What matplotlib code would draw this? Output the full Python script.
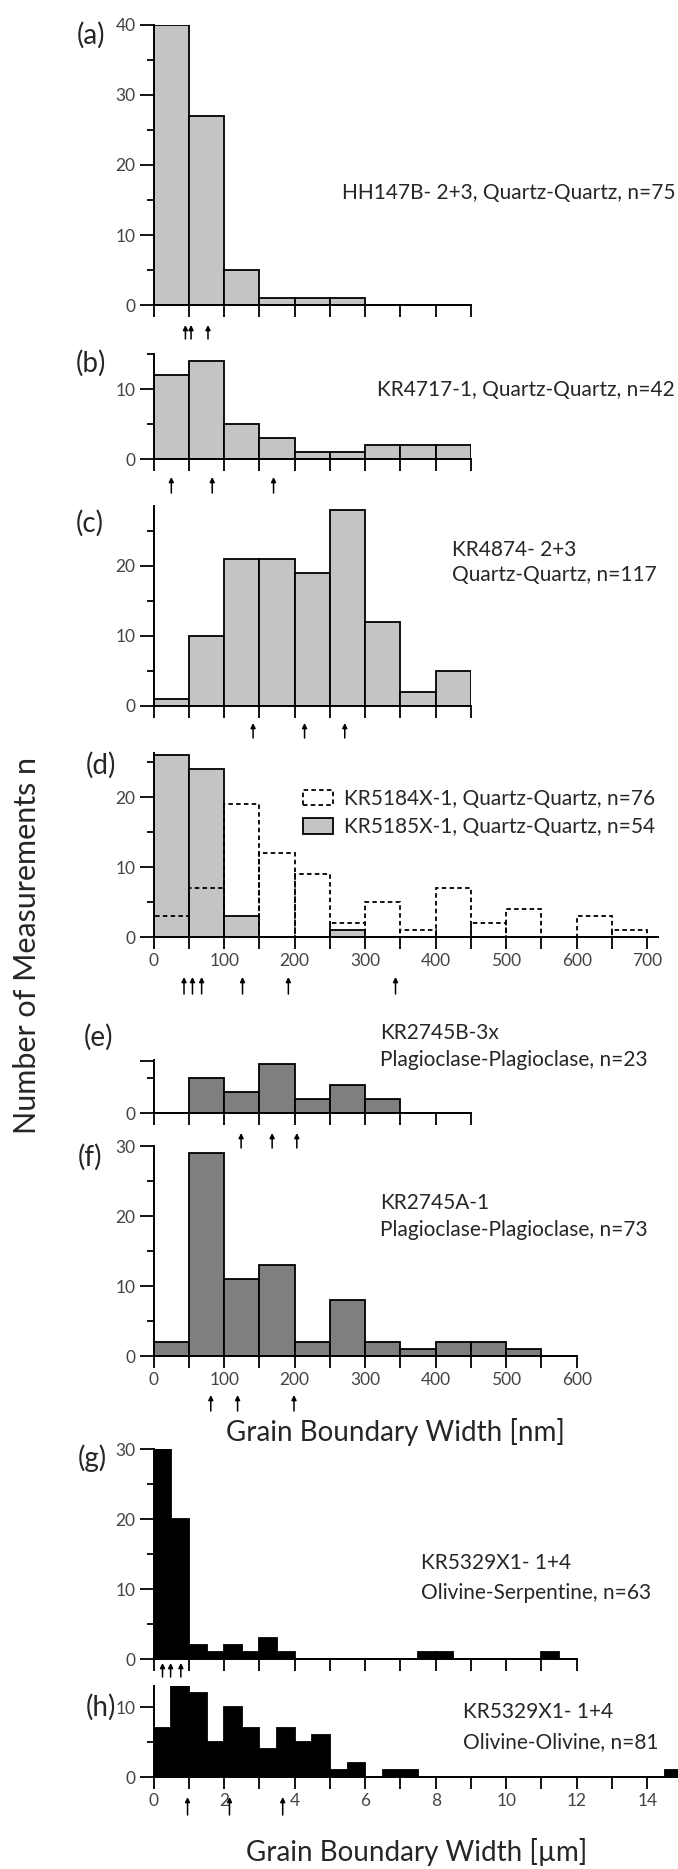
import matplotlib
matplotlib.use("Agg")
import matplotlib.pyplot as plt
from matplotlib.patches import Patch
from matplotlib.transforms import offset_copy
import numpy as np

plt.rcParams['font.family'] = ['Lato', 'DejaVu Sans']

# ---- data (counts per bin) ----
# nm panels: 50 nm bins starting at 0
a_counts = [40, 27, 5, 1, 1, 1, 0, 0, 0]
b_counts = [12, 14, 5, 3, 1, 1, 2, 2, 2]
c_counts = [1, 10, 21, 21, 19, 28, 12, 2, 5]
d_dashed_counts = [3, 7, 19, 12, 9, 2, 5, 1, 7, 2, 4, 0, 3, 1]
d_gray_counts = [26, 24, 3, 0, 0, 1, 0, 0, 0, 0, 0, 0, 0, 0]
e_counts = [0, 5, 3, 7, 2, 4, 2, 0, 0]
f_counts = [2, 29, 11, 13, 2, 8, 2, 1, 2, 2, 1, 0]
# um panels: 0.5 um bins starting at 0
g_counts = [30, 20, 2, 1, 2, 1, 3, 1, 0, 0, 0, 0, 0, 0, 0, 1, 1, 0, 0, 0, 0, 0, 1, 0]
h_counts = [7, 13, 12, 5, 10, 7, 4, 7, 5, 6, 1, 2, 0, 1, 1,
            0, 0, 0, 0, 0, 0, 0, 0, 0, 0, 0, 0, 0, 0, 1]

# arrow markers under each panel
a_arrows = [45, 53, 77]
b_arrows = [25, 83, 170]
c_arrows = [141, 214, 271]
d_arrows = [43, 55, 68, 126, 191, 343]
e_arrows = [124, 168, 203]
f_arrows = [81, 119, 199]
g_arrows = [0.25, 0.48, 0.77]
h_arrows = [0.96, 2.15, 3.66]

LIGHT = '#c4c4c4'
MID = '#7f7f7f'
TXT = '#262626'
W, H = 678, 1869
fig = plt.figure(figsize=(W / 100, H / 100), dpi=100)

X0 = 153.7
PX_NM = 0.705     # px per nm
PX_UM = 35.25     # px per um
PX_N = 7.0        # px per count


def px_axes(xmax, ymax, bottom, px_per_x):
    w = xmax * px_per_x
    h = ymax * PX_N
    ax = fig.add_axes([X0 / W, 1 - bottom / H, w / W, h / H])
    ax.set_xlim(0, xmax)
    ax.set_ylim(0, ymax)
    ax.set_facecolor('none')
    for s in ('top', 'right'):
        ax.spines[s].set_visible(False)
    for s in ('left', 'bottom'):
        ax.spines[s].set_linewidth(1.4)
    ax.tick_params(axis='y', which='major', length=10, width=1.3, pad=3,
                   labelsize=12.5, labelcolor='#444444')
    ax.tick_params(axis='y', which='minor', length=5, width=1.3)
    ax.tick_params(axis='x', which='both', length=8.5, width=1.3, pad=3,
                   labelsize=12.5, labelcolor='#444444')
    return ax


def bars(ax, counts, binw, color, **kw):
    edges = np.arange(len(counts)) * binw
    ax.bar(edges, counts, width=binw, align='edge', color=color,
           edgecolor='black', linewidth=1.3, **kw)


def arrows(ax, xs, tip, length):
    t = offset_copy(ax.get_xaxis_transform(), fig=fig, x=0, y=-tip, units='dots')
    for x in xs:
        ax.annotate('', xy=(x, 0), xycoords=t, xytext=(0, -length * 0.72),
                    textcoords='offset points',
                    arrowprops=dict(arrowstyle='-|>', lw=1.1, color='black',
                                    mutation_scale=7, shrinkA=0, shrinkB=0))


def ftext(x, y, s, ha='left', size=15):
    fig.text(x / W, 1 - y / H, s, ha=ha, va='center', fontsize=size, color=TXT)


def nm_xticks(ax, xmax, labels):
    ax.set_xticks(np.arange(0, xmax + 1, 100))
    ax.set_xticks(np.arange(50, xmax, 100), minor=True)
    if not labels:
        ax.set_xticklabels([])


# (a)
ax = px_axes(450, 40, 305, PX_NM)
bars(ax, a_counts, 50, LIGHT)
ax.set_xticks(np.arange(0, 451, 50))
ax.set_xticklabels([])
ax.set_yticks([0, 10, 20, 30, 40])
ax.set_yticks([5, 15, 25, 35], minor=True)
arrows(ax, a_arrows, 20, 14)
ftext(77, 35, '(a)', size=20)
ftext(675, 193, 'HH147B- 2+3, Quartz-Quartz, n=75', ha='right')

# (b)
ax = px_axes(450, 15, 459, PX_NM)
bars(ax, b_counts, 50, LIGHT)
ax.set_xticks(np.arange(0, 451, 50))
ax.set_xticklabels([])
ax.set_yticks([0, 10])
ax.set_yticks([5, 15], minor=True)
arrows(ax, b_arrows, 18, 16)
ftext(76, 363, '(b)', size=20)
ftext(675, 390, 'KR4717-1, Quartz-Quartz, n=42', ha='right')

# (c)
ax = px_axes(450, 28.5, 706, PX_NM)
bars(ax, c_counts, 50, LIGHT)
ax.set_xticks(np.arange(0, 451, 50))
ax.set_xticklabels([])
ax.set_yticks([0, 10, 20])
ax.set_yticks([5, 15, 25], minor=True)
arrows(ax, c_arrows, 17, 15)
ftext(76, 523, '(c)', size=20)
ftext(452, 550, 'KR4874- 2+3')
ftext(452, 575, 'Quartz-Quartz, n=117')

# (d)
ax = px_axes(715, 26.3, 937, PX_NM)
bars(ax, d_gray_counts, 50, LIGHT)
bars(ax, d_dashed_counts, 50, 'none', linestyle=(0, (2.5, 1.8)))
nm_xticks(ax, 700, True)
ax.set_yticks([0, 10, 20])
ax.set_yticks([5, 15, 25], minor=True)
arrows(ax, d_arrows, 40, 17)
ftext(86, 765, '(d)', size=20)
handles = [Patch(facecolor='white', edgecolor='black', linestyle=(0, (2.5, 1.8)), linewidth=1.3),
           Patch(facecolor=LIGHT, edgecolor='black', linewidth=1.3)]
ax.legend(handles, ['KR5184X-1, Quartz-Quartz, n=76', 'KR5185X-1, Quartz-Quartz, n=54'],
          loc='center left', bbox_to_anchor=(303 / W, 1 - 813 / H),
          bbox_transform=fig.transFigure, frameon=False, fontsize=15,
          borderaxespad=0, borderpad=0, handlelength=1.45, handleheight=0.75,
          handletextpad=0.5, labelspacing=0.4, labelcolor=TXT)

# (e)
ax = px_axes(450, 7.6, 1113, PX_NM)
bars(ax, e_counts, 50, MID)
ax.set_xticks(np.arange(0, 451, 50))
ax.set_xticklabels([])
ax.set_yticks([0, 7.5])
ax.set_yticklabels(['0', ''])
ax.set_yticks([5], minor=True)
arrows(ax, e_arrows, 20, 15)
ftext(84, 1037, '(e)', size=20)
ftext(380, 1033, 'KR2745B-3x')
ftext(380, 1060, 'Plagioclase-Plagioclase, n=23')

# (f)
ax = px_axes(600, 30, 1356, PX_NM)
bars(ax, f_counts, 50, MID)
nm_xticks(ax, 600, True)
ax.set_yticks([0, 10, 20, 30])
ax.set_yticks([5, 15, 25], minor=True)
arrows(ax, f_arrows, 39, 16)
ftext(78, 1157, '(f)', size=20)
ftext(380, 1203, 'KR2745A-1')
ftext(380, 1230, 'Plagioclase-Plagioclase, n=73')
ftext(395, 1432, 'Grain Boundary Width [nm]', ha='center', size=20)

# (g)
ax = px_axes(12, 30, 1659, PX_UM)
bars(ax, g_counts, 0.5, 'black')
ax.set_xticks(np.arange(0, 13, 1))
ax.set_xticklabels([])
ax.set_yticks([0, 10, 20, 30])
ax.set_yticks([5, 15, 25], minor=True)
arrows(ax, g_arrows, 4, 14)
ftext(78, 1458, '(g)', size=20)
ftext(421, 1563, 'KR5329X1- 1+4')
ftext(421, 1593, 'Olivine-Serpentine, n=63')

# (h)
ax = px_axes(15, 13, 1777, PX_UM)
bars(ax, h_counts, 0.5, 'black')
ax.set_xticks(np.arange(0, 15, 2))
ax.set_xticks(np.arange(1, 16, 2), minor=True)
ax.set_yticks([0, 10])
ax.set_yticks([5], minor=True)
arrows(ax, h_arrows, 20, 18)
ftext(86, 1707, '(h)', size=20)
ftext(463, 1712, 'KR5329X1- 1+4')
ftext(463, 1742, 'Olivine-Olivine, n=81')
ftext(417, 1852, 'Grain Boundary Width [\u00b5m]', ha='center', size=20)

# shared y label
fig.text(27 / W, 1 - 945 / H, 'Number of Measurements n', rotation=90,
         ha='center', va='center', fontsize=22, color=TXT)

fig.savefig('out.png', dpi=100)
